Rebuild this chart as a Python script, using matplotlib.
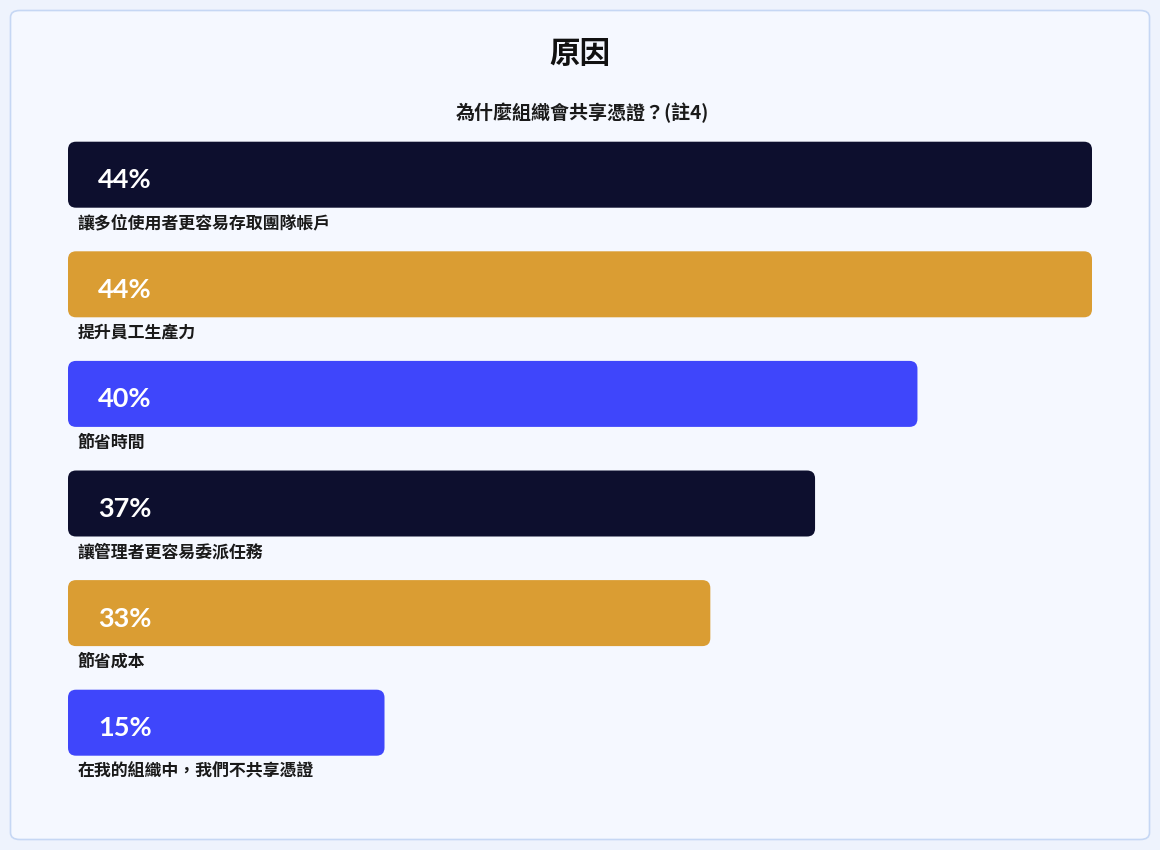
import matplotlib
matplotlib.use("Agg")
import matplotlib.pyplot as plt
from matplotlib.patches import FancyBboxPatch

plt.rcParams['font.family'] = ['Noto Sans CJK TC', 'DejaVu Sans']

title = "原因"
subtitle = "為什麼組織會共享憑證？(註4)"
categories = [
    "讓多位使用者更容易存取團隊帳戶",
    "提升員工生產力",
    "節省時間",
    "讓管理者更容易委派任務",
    "節省成本",
    "在我的組織中，我們不共享憑證",
]
value_labels = ["44%", "44%", "40%", "37%", "33%", "15%"]
# bar lengths as drawn in the picture (on a scale where the longest bar = 44)
bar_lengths = [44, 44, 36.5, 32.1, 27.6, 13.6]
colors = ["#0d0f2e", "#da9d33", "#3f46fb", "#0d0f2e", "#da9d33", "#3f46fb"]

W, H = 1160, 850
fig = plt.figure(figsize=(W / 100, H / 100), dpi=100)
fig.patch.set_facecolor("#eef3fd")

# outer card
card = FancyBboxPatch((10.5 / W, 1 - 839.5 / H), 1139 / W, 829 / H,
                      boxstyle="round,pad=0,rounding_size=0.008",
                      transform=fig.transFigure, facecolor="#f5f8ff",
                      edgecolor="#c6d7f4", linewidth=1.2, zorder=-5)
fig.patches.append(card)

fig.text(580 / W, 1 - 54 / H, title, ha="center", va="center",
         fontsize=22, fontweight="bold", color="#111111")
fig.text(582 / W, 1 - 112.5 / H, subtitle, ha="center", va="center",
         fontsize=13.7, fontweight="bold", color="#1a1a1a")

# axes: x from px 68 to 1092 covers 0..44; rows centred 174.7 .. 722.7
step = 109.6
top_px = 174.7 - step / 2
bot_px = 722.7 + step / 2
ax = fig.add_axes([68 / W, 1 - bot_px / H, 1024 / W, (bot_px - top_px) / H])
ax.set_zorder(1)
ax.set_xlim(0, 44)
ax.set_ylim(len(categories) - 0.5, -0.5)
ax.axis("off")

bar_h = 66 / step
ypos = list(range(len(categories)))
bars = ax.barh(ypos, bar_lengths, height=bar_h, color=colors)

px_x = 44 / 1024
px_y = 1 / step
r_px = 8
for b, c in zip(bars, colors):
    x0, y0 = b.get_x(), b.get_y()
    w, h = b.get_width(), b.get_height()
    b.set_visible(False)
    p = FancyBboxPatch((x0, y0), w, h,
                       boxstyle=f"round,pad=0,rounding_size={r_px * px_x}",
                       mutation_aspect=px_y / px_x,
                       facecolor=c, edgecolor="none", zorder=2)
    ax.add_patch(p)

for y, lab, cat in zip(ypos, value_labels, categories):
    ax.text(30 * px_x, y + 5.5 * px_y, lab, ha="left", va="center",
            fontsize=19.5, fontweight="bold", color="white",
            family=["Lato", "DejaVu Sans"], zorder=3)
    ax.text(10 * px_x, y + 49 * px_y, cat, ha="left", va="center",
            fontsize=12.2, fontweight="bold", color="#1a1a1a", zorder=3)

fig.savefig("out.png", dpi=100, facecolor=fig.get_facecolor())
